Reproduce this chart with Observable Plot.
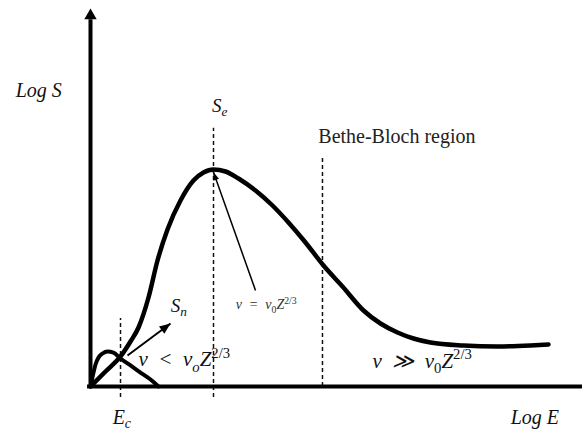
<!DOCTYPE html>
<html>
<head>
<meta charset="utf-8">
<script src="https://cdn.jsdelivr.net/npm/d3@7"></script>
<script src="https://cdn.jsdelivr.net/npm/@observablehq/plot@0.6"></script>
<style>
  html, body { margin: 0; padding: 0; background: #fff; }
  #chart svg { display: block; }
</style>
</head>
<body>
<div id="chart"></div>
<script>
// Schematic stopping power S versus energy E, both on arbitrary log scales.

// Electronic stopping S_e
const seLogE = [0, 3.05, 6.10, 8.13, 9.76, 11.79, 13.62, 15.65, 18.29, 20.93, 22.97, 25.00,
  27.44, 30.08, 33.54, 36.99, 40.24, 43.70, 47.36, 51.22, 55.49, 58.94, 62.40, 65.65,
  69.11, 75.81, 82.72, 89.43, 93.09];
const seLogS = [0, 3.97, 7.94, 11.90, 15.61, 23.54, 33.33, 41.53, 49.21, 54.50, 56.61, 57.41,
  56.88, 55.03, 51.85, 47.88, 43.39, 38.10, 32.01, 26.46, 20.11, 16.67, 14.29, 12.70,
  11.64, 10.85, 10.58, 10.85, 11.11];

// Nuclear stopping S_n
const snLogE = [0, 0.61, 1.02, 1.63, 2.44, 3.46, 4.67, 6.10, 8.13, 10.16, 12.20, 13.82];
const snLogS = [0, 3.70, 5.82, 7.67, 8.73, 9.26, 8.99, 7.41, 5.56, 3.70, 1.85, 0];

// Characteristic energies: E_c, the S_e maximum, onset of the Bethe-Bloch region
const guideNames = ["Ec", "peak", "bethe"];
const guideLogE = [6.10, 25.00, 47.15];

const se = seLogE.map((e, i) => ({logE: e, logS: seLogS[i]}));
const sn = snLogE.map((e, i) => ({logE: e, logS: snLogS[i]}));

// Vertical extent of each dashed guide
const guideSpan = {Ec: [-2.9, 18.0], peak: [-2.9, 68.3], bethe: [0, 61.1]};
const guides = guideNames.map((n, i) => ({logE: guideLogE[i], y1: guideSpan[n][0], y2: guideSpan[n][1]}));

const TIMES = "'Liberation Serif', 'Times New Roman', serif";
const EN = "\u2002"; // en space for math spacing

// Annotations, anchored at their left baseline
const axisLabels = [
  {text: "Log S", x: -15.2, y: 76.7},
  {text: "Log E", x: 85.4, y: -10.05}
];
const regionLabel = [{text: "Bethe-Bloch region", x: 46.3, y: 64.5}];
const symbolLabels = [
  {text: "S_{e}", x: 24.7, y: 72.75},
  {text: "S_{n}", x: 16.3, y: 19.8}
];
const energyLabel = [{text: "E_{c}", x: 4.5, y: -9.8}];
const regimeLabels = [
  {text: `v${EN}<${EN}v_{o}Z^{2/3}`, x: 9.76, y: 5.3},
  {text: `v${EN}≫${EN}v_{0}Z^{2/3}`, x: 57.3, y: 5.0}
];
const peakNote = [{text: `v${EN}=${EN}v_{0}Z^{2/3}`, x: 29.5, y: 20.4}];

// Pointer arrows
const peakPointer = [{x1: 33.54, y1: 25.4, x2: 25.0, y2: 56.7}];
const snPointer = [{x1: 7.52, y1: 8.2, x2: 16.26, y2: 16.67}];

function solidHead(len, wid) {
  return (color) => d3.create("svg:marker")
    .attr("viewBox", `${-len} ${-wid / 2} ${len} ${wid}`)
    .attr("markerUnits", "userSpaceOnUse")
    .attr("markerWidth", len)
    .attr("markerHeight", wid)
    .attr("refX", 0)
    .attr("refY", 0)
    .attr("orient", "auto")
    .attr("overflow", "visible")
    .call(m => m.append("path")
      .attr("d", `M${-len},${-wid / 2}L0,0L${-len},${wid / 2}Z`)
      .attr("fill", color)
      .attr("stroke", "none"))
    .node();
}

const label = (data, size, extra = {}) => Plot.text(data, {
  x: "x", y: "y", text: "text", textAnchor: "start", lineAnchor: "bottom",
  fontFamily: TIMES, fontStyle: "italic", fontSize: size, fill: "#111", ...extra
});

const chart = Plot.plot({
  width: 582,
  height: 430,
  marginLeft: 90,
  marginRight: 0,
  marginTop: 8,
  marginBottom: 44,
  style: {background: "#fff", color: "#000", overflow: "visible"},
  x: {domain: [0, 100], axis: null},
  y: {domain: [0, 100], axis: null},
  marks: [
    // dashed guides
    Plot.ruleX(guides, {x: "logE", y1: "y1", y2: "y2", stroke: "#111", strokeWidth: 1.5, strokeDasharray: "4,3"}),
    // axes
    Plot.ruleY([0], {x1: -0.6, x2: 100, stroke: "#000", strokeWidth: 4}),
    Plot.ruleX([0], {y1: -0.5, y2: 97, stroke: "#000", strokeWidth: 4}),
    Plot.dot([{x: 0, y: 98.1}], {x: "x", y: "y", symbol: "triangle", r: 4.6, fill: "#000", stroke: "none"}),
    // stopping curves
    Plot.line(sn, {x: "logE", y: "logS", curve: "monotone-x", stroke: "#000", strokeWidth: 4}),
    Plot.line(se, {x: "logE", y: "logS", curve: "monotone-x", stroke: "#000", strokeWidth: 4.5}),
    // pointers
    Plot.link(peakPointer, {x1: "x1", y1: "y1", x2: "x2", y2: "y2", stroke: "#000", strokeWidth: 1.5, markerEnd: solidHead(8, 6)}),
    Plot.link(snPointer, {x1: "x1", y1: "y1", x2: "x2", y2: "y2", stroke: "#000", strokeWidth: 2, markerEnd: solidHead(11, 9)}),
    // text
    label(axisLabels, 20),
    label(regionLabel, 20, {fontStyle: "normal", fill: "#222"}),
    label(symbolLabels, 19),
    label(energyLabel, 20),
    label(regimeLabels, 21),
    label(peakNote, 14, {fill: "#333"})
  ]
});

document.getElementById("chart").appendChild(chart);

// Turn _{...} and ^{...} into subscript / superscript tspans
function typesetScripts(svg) {
  svg.querySelectorAll("text").forEach(el => {
    const src = el.textContent;
    if (!/[_^]\{/.test(src)) return;
    const holder = el.getAttribute("font-size") ? el : el.closest("[font-size]");
    const size = parseFloat(holder ? holder.getAttribute("font-size") : 16);
    el.textContent = "";
    const parts = src.split(/([_^]\{[^}]*\})/).filter(s => s);
    let shift = 0;
    for (const p of parts) {
      const t = document.createElementNS("http://www.w3.org/2000/svg", "tspan");
      let target = 0, txt = p, small = false;
      if (p.startsWith("_{")) { target = 0.24 * size; txt = p.slice(2, -1); small = true; }
      else if (p.startsWith("^{")) { target = -0.42 * size; txt = p.slice(2, -1); small = true; }
      if (target !== shift) t.setAttribute("dy", target - shift);
      shift = target;
      if (small) {
        t.setAttribute("font-size", 0.7 * size);
        if (/^[0-9/]+$/.test(txt)) t.setAttribute("font-style", "normal");
      }
      t.textContent = txt;
      el.appendChild(t);
    }
  });
}
typesetScripts(chart);
</script>
</body>
</html>
